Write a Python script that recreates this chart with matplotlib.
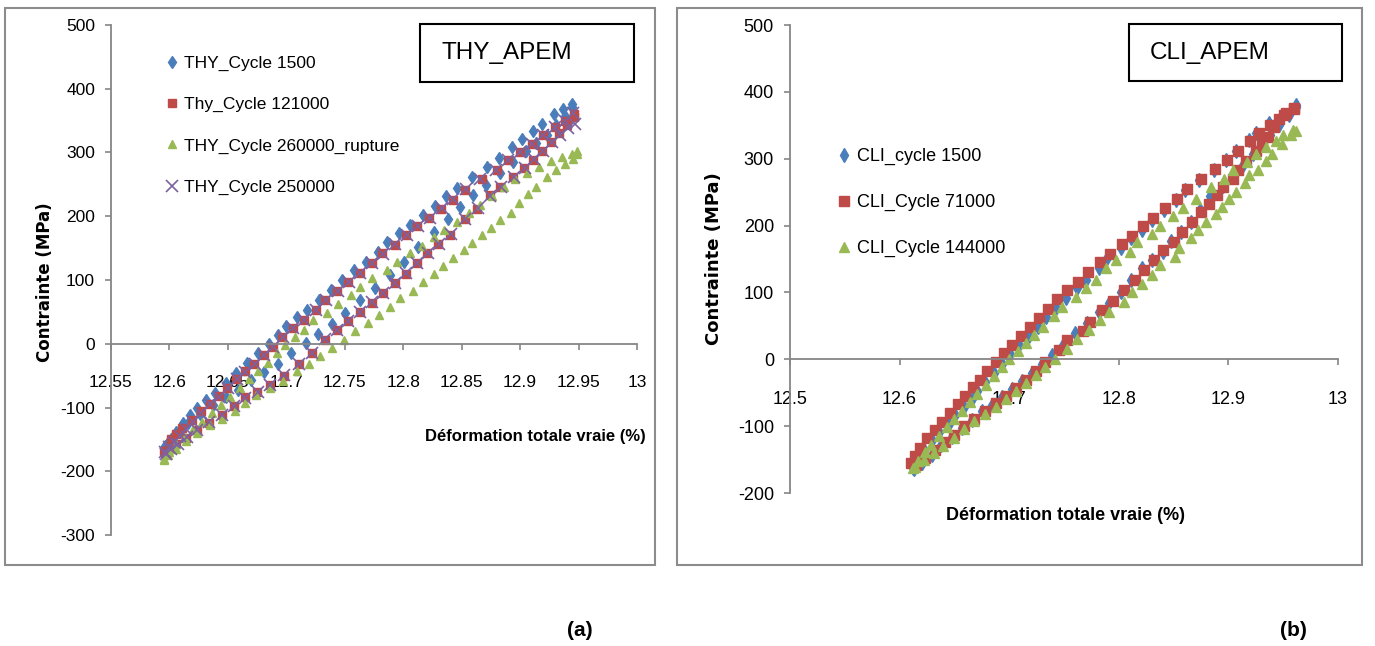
import matplotlib
matplotlib.use('Agg')
import matplotlib.pyplot as plt
from matplotlib.patches import Rectangle

# ---- data: THY_APEM (left) ----
thy_1500_x = [12.595, 12.600, 12.606, 12.612, 12.618, 12.624, 12.631, 12.639, 12.648, 12.657,
              12.666, 12.676, 12.685, 12.693, 12.700, 12.709, 12.718, 12.728, 12.738, 12.748,
              12.758, 12.768, 12.778, 12.786, 12.796, 12.806, 12.817, 12.827, 12.837, 12.846,
              12.859, 12.872, 12.882, 12.893, 12.902, 12.911, 12.919, 12.929, 12.937, 12.944,
              12.944, 12.938, 12.931, 12.923, 12.914, 12.905, 12.894, 12.883, 12.871, 12.860,
              12.849, 12.838, 12.826, 12.813, 12.801, 12.789, 12.776, 12.763, 12.750, 12.739,
              12.727, 12.717, 12.704, 12.693, 12.681, 12.670, 12.659, 12.648, 12.637, 12.626,
              12.616, 12.608, 12.601, 12.596]
thy_1500_y = [-163, -152, -138, -124, -112, -100, -89, -77, -62, -46,
              -30, -14, 0, 13, 28, 42, 53, 69, 85, 100,
              115, 129, 144, 159, 173, 187, 202, 216, 231, 245,
              261, 278, 292, 308, 321, 334, 345, 360, 368, 376,
              372, 358, 343, 328, 315, 302, 285, 268, 249, 233,
              214, 196, 175, 152, 128, 108, 88, 68, 48, 31,
              16, 1, -14, -31, -44, -57, -72, -84, -96, -110,
              -124, -138, -150, -160]

thy_121000_x = [12.595, 12.601, 12.606, 12.611, 12.619, 12.627, 12.635, 12.642, 12.649, 12.657,
                12.665, 12.672, 12.681, 12.689, 12.696, 12.706, 12.715, 12.725, 12.733, 12.743,
                12.753, 12.763, 12.773, 12.782, 12.793, 12.802, 12.812, 12.822, 12.832, 12.843,
                12.853, 12.867, 12.880, 12.890, 12.900, 12.910, 12.920, 12.930, 12.938, 12.946,
                12.946, 12.940, 12.933, 12.926, 12.919, 12.911, 12.903, 12.894, 12.883, 12.874,
                12.863, 12.853, 12.840, 12.830, 12.820, 12.812, 12.802, 12.793, 12.783, 12.773,
                12.763, 12.753, 12.743, 12.733, 12.722, 12.711, 12.698, 12.686, 12.675, 12.665,
                12.655, 12.645, 12.634, 12.624, 12.614, 12.606, 12.600, 12.596]
thy_121000_y = [-168, -150, -141, -132, -119, -106, -94, -82, -69, -56,
                -43, -31, -17, -5, 10, 24, 37, 53, 69, 83,
                97, 111, 126, 142, 155, 170, 184, 198, 212, 226,
                241, 259, 272, 288, 300, 314, 328, 340, 350, 360,
                356, 343, 330, 316, 302, 289, 275, 261, 246, 233,
                212, 196, 170, 156, 142, 126, 110, 96, 79, 64,
                50, 36, 22, 6, -15, -31, -50, -64, -75, -84,
                -98, -111, -124, -136, -148, -157, -165, -172]

thy_260000_x = [12.595, 12.600, 12.606, 12.613, 12.620, 12.628, 12.636, 12.644, 12.652, 12.660,
                12.668, 12.676, 12.684, 12.692, 12.699, 12.707, 12.715, 12.723, 12.735, 12.744,
                12.755, 12.763, 12.773, 12.786, 12.795, 12.806, 12.816, 12.826, 12.835, 12.846,
                12.856, 12.866, 12.876, 12.886, 12.896, 12.906, 12.916, 12.926, 12.936, 12.944,
                12.949, 12.949, 12.945, 12.938, 12.931, 12.923, 12.914, 12.907, 12.899, 12.892,
                12.883, 12.875, 12.867, 12.859, 12.852, 12.843, 12.834, 12.826, 12.817, 12.808,
                12.797, 12.789, 12.779, 12.770, 12.759, 12.749, 12.739, 12.729, 12.719, 12.709,
                12.697, 12.686, 12.674, 12.665, 12.656, 12.645, 12.635, 12.624, 12.614, 12.606,
                12.599, 12.595]
thy_260000_y = [-180, -170, -158, -146, -134, -122, -108, -96, -83, -70,
                -56, -42, -30, -14, -2, 10, 22, 37, 48, 63,
                77, 89, 103, 116, 129, 142, 154, 168, 178, 191,
                205, 218, 232, 246, 258, 268, 278, 286, 293, 298,
                302, 298, 290, 282, 272, 261, 246, 235, 220, 205,
                194, 182, 170, 158, 147, 134, 122, 110, 97, 83,
                71, 58, 45, 32, 20, 6, -7, -19, -31, -42,
                -58, -70, -80, -93, -106, -118, -128, -140, -152, -165,
                -175, -182]

thy_250000_x = [12.596, 12.600, 12.604, 12.609, 12.614, 12.620, 12.627, 12.635, 12.642, 12.650,
                12.658, 12.665, 12.673, 12.681, 12.689, 12.697, 12.706, 12.715, 12.725, 12.734,
                12.744, 12.754, 12.763, 12.773, 12.783, 12.793, 12.803, 12.813, 12.823, 12.833,
                12.843, 12.854, 12.866, 12.879, 12.890, 12.900, 12.910, 12.920, 12.930, 12.938,
                12.945, 12.947, 12.941, 12.934, 12.927, 12.920, 12.912, 12.904, 12.895, 12.884,
                12.874, 12.864, 12.853, 12.841, 12.831, 12.821, 12.812, 12.802, 12.793, 12.783,
                12.773, 12.763, 12.753, 12.743, 12.733, 12.722, 12.711, 12.698, 12.686, 12.676,
                12.665, 12.655, 12.645, 12.634, 12.624, 12.615, 12.607, 12.601, 12.597]
thy_250000_y = [-170, -162, -154, -144, -133, -122, -108, -95, -83, -69,
                -56, -44, -31, -18, -5, 10, 24, 38, 53, 68,
                83, 97, 111, 126, 141, 156, 170, 184, 198, 213,
                227, 242, 258, 273, 288, 301, 314, 328, 340, 350,
                362, 345, 338, 328, 316, 303, 290, 276, 262, 246,
                232, 213, 196, 172, 157, 142, 127, 111, 96, 80,
                65, 50, 36, 22, 7, -15, -31, -49, -64, -75,
                -85, -98, -111, -123, -136, -147, -157, -165, -173]

# ---- data: CLI_APEM (right) ----
cli_1500_x = [12.612, 12.616, 12.622, 12.630, 12.636, 12.645, 12.651, 12.659, 12.666, 12.671,
              12.678, 12.686, 12.693, 12.701, 12.709, 12.718, 12.726, 12.734, 12.743, 12.752,
              12.762, 12.770, 12.782, 12.789, 12.802, 12.811, 12.821, 12.830, 12.841, 12.852,
              12.860, 12.873, 12.887, 12.898, 12.907, 12.919, 12.925, 12.937, 12.949, 12.962,
              12.962, 12.955, 12.946, 12.938, 12.930, 12.922, 12.913, 12.904, 12.895, 12.883,
              12.874, 12.866, 12.857, 12.848, 12.840, 12.830, 12.821, 12.811, 12.802, 12.791,
              12.782, 12.771, 12.760, 12.749, 12.739, 12.730, 12.721, 12.712, 12.703, 12.693,
              12.684, 12.675, 12.666, 12.657, 12.648, 12.638, 12.630, 12.620, 12.613]
cli_1500_y = [-162, -150, -135, -121, -109, -97, -83, -72, -60, -47,
              -34, -20, -7, 8, 22, 35, 49, 63, 76, 91,
              106, 119, 137, 151, 166, 181, 194, 208, 223, 238,
              253, 268, 283, 298, 312, 328, 339, 353, 365, 380,
              378, 366, 351, 336, 322, 307, 291, 274, 259, 244,
              224, 205, 190, 177, 161, 148, 136, 118, 101, 84,
              70, 54, 39, 22, 6, -7, -21, -33, -45, -56,
              -68, -78, -91, -103, -116, -128, -143, -155, -164]

cli_71000_x = [12.610, 12.614, 12.619, 12.625, 12.632, 12.639, 12.646, 12.653, 12.660, 12.667,
               12.673, 12.680, 12.688, 12.695, 12.703, 12.711, 12.719, 12.727, 12.735, 12.744,
               12.753, 12.763, 12.772, 12.783, 12.792, 12.803, 12.812, 12.822, 12.831, 12.842,
               12.853, 12.862, 12.875, 12.888, 12.899, 12.909, 12.920, 12.928, 12.938, 12.946,
               12.953, 12.960, 12.960, 12.951, 12.942, 12.936, 12.931, 12.925, 12.916, 12.909,
               12.904, 12.895, 12.890, 12.882, 12.875, 12.867, 12.858, 12.850, 12.840, 12.832,
               12.823, 12.815, 12.805, 12.795, 12.785, 12.774, 12.767, 12.753, 12.745, 12.733,
               12.724, 12.715, 12.706, 12.697, 12.688, 12.678, 12.668, 12.659, 12.650, 12.641,
               12.632, 12.623, 12.615]
cli_71000_y = [-155, -145, -133, -118, -106, -94, -80, -67, -55, -42,
               -31, -18, -4, 9, 22, 35, 48, 62, 75, 90,
               103, 115, 130, 145, 158, 172, 185, 199, 212, 226,
               240, 254, 270, 284, 298, 311, 326, 338, 350, 360,
               368, 375, 376, 365, 347, 332, 322, 312, 296, 283,
               270, 258, 245, 233, 220, 205, 190, 176, 163, 148,
               133, 119, 103, 87, 74, 56, 43, 29, 14, -4,
               -18, -31, -43, -55, -66, -77, -89, -100, -113, -124,
               -136, -148, -158]

cli_144000_x = [12.612, 12.617, 12.623, 12.629, 12.636, 12.643, 12.650, 12.657, 12.664, 12.671,
                12.679, 12.686, 12.693, 12.700, 12.708, 12.715, 12.723, 12.731, 12.741, 12.748,
                12.761, 12.770, 12.779, 12.788, 12.797, 12.810, 12.817, 12.830, 12.838, 12.849,
                12.859, 12.870, 12.884, 12.896, 12.904, 12.917, 12.925, 12.934, 12.943, 12.950,
                12.959, 12.962, 12.957, 12.949, 12.940, 12.934, 12.927, 12.919, 12.915, 12.907,
                12.901, 12.894, 12.889, 12.880, 12.872, 12.866, 12.855, 12.851, 12.838, 12.830,
                12.821, 12.812, 12.805, 12.791, 12.783, 12.773, 12.762, 12.753, 12.742, 12.733,
                12.724, 12.715, 12.706, 12.697, 12.688, 12.678, 12.668, 12.659, 12.650, 12.640,
                12.631, 12.622, 12.614]
cli_144000_y = [-163, -152, -139, -128, -115, -102, -89, -77, -64, -52,
                -38, -25, -12, 0, 12, 24, 36, 49, 64, 78,
                93, 106, 119, 136, 148, 161, 176, 188, 200, 214,
                227, 240, 257, 270, 283, 295, 307, 318, 327, 336,
                343, 342, 335, 322, 307, 297, 283, 275, 263, 250,
                240, 228, 218, 205, 193, 181, 166, 153, 141, 126,
                113, 101, 86, 71, 59, 44, 30, 16, 1, -12,
                -24, -36, -48, -60, -71, -82, -93, -105, -117, -129,
                -140, -151, -161]

thy_labels = ['THY_Cycle 1500', 'Thy_Cycle 121000', 'THY_Cycle 260000_rupture', 'THY_Cycle 250000']
cli_labels = ['CLI_cycle 1500', 'CLI_Cycle 71000', 'CLI_Cycle 144000']

BLUE = '#4a7ebb'
RED = '#be4b48'
GREEN = '#98b954'
PURPLE = '#7d60a0'
AXC = '#868686'
FONT = 'Liberation Sans'

W, H = 1375, 646
fig = plt.figure(figsize=(13.75, 6.46), dpi=100)


def fx(x):
    return x / W


def fy(y):
    return 1 - y / H


def frame(x0, y0, x1, y1, color, lw):
    r = Rectangle((fx(x0), fy(y1)), fx(x1) - fx(x0), fy(y0) - fy(y1),
                  transform=fig.transFigure, fill=False, edgecolor=color, lw=lw)
    fig.add_artist(r)


def style(ax, xlim, ylim, xticks, xlabels, yticks, fsize):
    ax.set_xlim(xlim)
    ax.set_ylim(ylim)
    for s in ['top', 'right']:
        ax.spines[s].set_visible(False)
    ax.spines['bottom'].set_position(('data', 0))
    for s in ['bottom', 'left']:
        ax.spines[s].set_color(AXC)
        ax.spines[s].set_linewidth(1.3)
    ax.set_xticks(xticks)
    ax.set_xticklabels(xlabels)
    ax.set_yticks(yticks)
    ax.set_yticklabels([str(v) for v in yticks])
    ax.tick_params(axis='both', direction='out', length=4.5, width=1.2, color=AXC,
                   labelsize=fsize)
    ax.tick_params(axis='x', pad=18)
    ax.tick_params(axis='y', pad=7)
    for t in ax.get_xticklabels() + ax.get_yticklabels():
        t.set_family(FONT)
    ax.patch.set_alpha(0)


# panel frames
frame(5, 8, 655, 565, '#8c8c8c', 1.5)
frame(677, 8, 1362, 565, '#8c8c8c', 1.5)

# ---- left chart ----
axL = fig.add_axes([fx(111), fy(535), fx(637) - fx(111), fy(25) - fy(535)])
axL.plot(thy_1500_x, thy_1500_y, 'd', color=BLUE, ms=6.5, mec=BLUE, ls='none', label=thy_labels[0])
axL.plot(thy_121000_x, thy_121000_y, 's', color=RED, ms=5.8, mec=RED, ls='none', label=thy_labels[1])
axL.plot(thy_260000_x, thy_260000_y, '^', color=GREEN, ms=5.8, mec=GREEN, ls='none', label=thy_labels[2])
axL.plot(thy_250000_x, thy_250000_y, 'x', color=PURPLE, ms=8, mew=1.2, ls='none', label=thy_labels[3])
style(axL, (12.55, 13.0), (-300, 500),
      [12.55, 12.6, 12.65, 12.7, 12.75, 12.8, 12.85, 12.9, 12.95, 13.0],
      ['12.55', '12.6', '12.65', '12.7', '12.75', '12.8', '12.85', '12.9', '12.95', '13'],
      [-300, -200, -100, 0, 100, 200, 300, 400, 500], 12.5)
axL.legend(loc='upper left', bbox_to_anchor=(fx(156), fy(47)), bbox_transform=fig.transFigure,
           frameon=False, borderpad=0, handlelength=0.8, handletextpad=0.3, labelspacing=1.5,
           prop={'family': FONT, 'size': 12.5})

# ---- right chart ----
axR = fig.add_axes([fx(790), fy(493), fx(1338) - fx(790), fy(25) - fy(493)])
axR.plot(cli_1500_x, cli_1500_y, 'd', color=BLUE, ms=7, mec=BLUE, ls='none', label=cli_labels[0])
axR.plot(cli_71000_x, cli_71000_y, 's', color=RED, ms=6.5, mec=RED, ls='none', label=cli_labels[1])
axR.plot(cli_144000_x, cli_144000_y, '^', color=GREEN, ms=6.5, mec=GREEN, ls='none', label=cli_labels[2])
style(axR, (12.5, 13.0), (-200, 500),
      [12.5, 12.6, 12.7, 12.8, 12.9, 13.0],
      ['12.5', '12.6', '12.7', '12.8', '12.9', '13'],
      [-200, -100, 0, 100, 200, 300, 400, 500], 13)
axR.legend(loc='upper left', bbox_to_anchor=(fx(828), fy(139)), bbox_transform=fig.transFigure,
           frameon=False, borderpad=0, handlelength=0.8, handletextpad=0.3, labelspacing=1.6,
           prop={'family': FONT, 'size': 13})

# axis titles
fig.text(fx(45), fy(282), 'Contrainte (MPa)', rotation=90, ha='center', va='center',
         fontsize=12, fontweight='bold', family='DejaVu Sans')
fig.text(fx(714), fy(259), 'Contrainte (MPa)', rotation=90, ha='center', va='center',
         fontsize=13, fontweight='bold', family='DejaVu Sans')
fig.text(fx(535), fy(437), 'Déformation totale vraie (%)', ha='center', va='center',
         fontsize=12, fontweight='bold', family=FONT)
fig.text(fx(1065), fy(516), 'Déformation totale vraie (%)', ha='center', va='center',
         fontsize=13, fontweight='bold', family=FONT)

# title boxes
frame(420, 24, 634, 82, 'black', 1.5)
fig.text(fx(442), fy(53), 'THY_APEM', ha='left', va='center', fontsize=17.5, family=FONT)
frame(1129, 24, 1342, 81, 'black', 1.5)
fig.text(fx(1150), fy(53), 'CLI_APEM', ha='left', va='center', fontsize=17.5, family=FONT)

# panel letters
fig.text(fx(580), fy(630), '(a)', ha='center', va='center', fontsize=15, fontweight='bold', family=FONT)
fig.text(fx(1293), fy(630), '(b)', ha='center', va='center', fontsize=15, fontweight='bold', family=FONT)

fig.savefig('out.png', dpi=100)
